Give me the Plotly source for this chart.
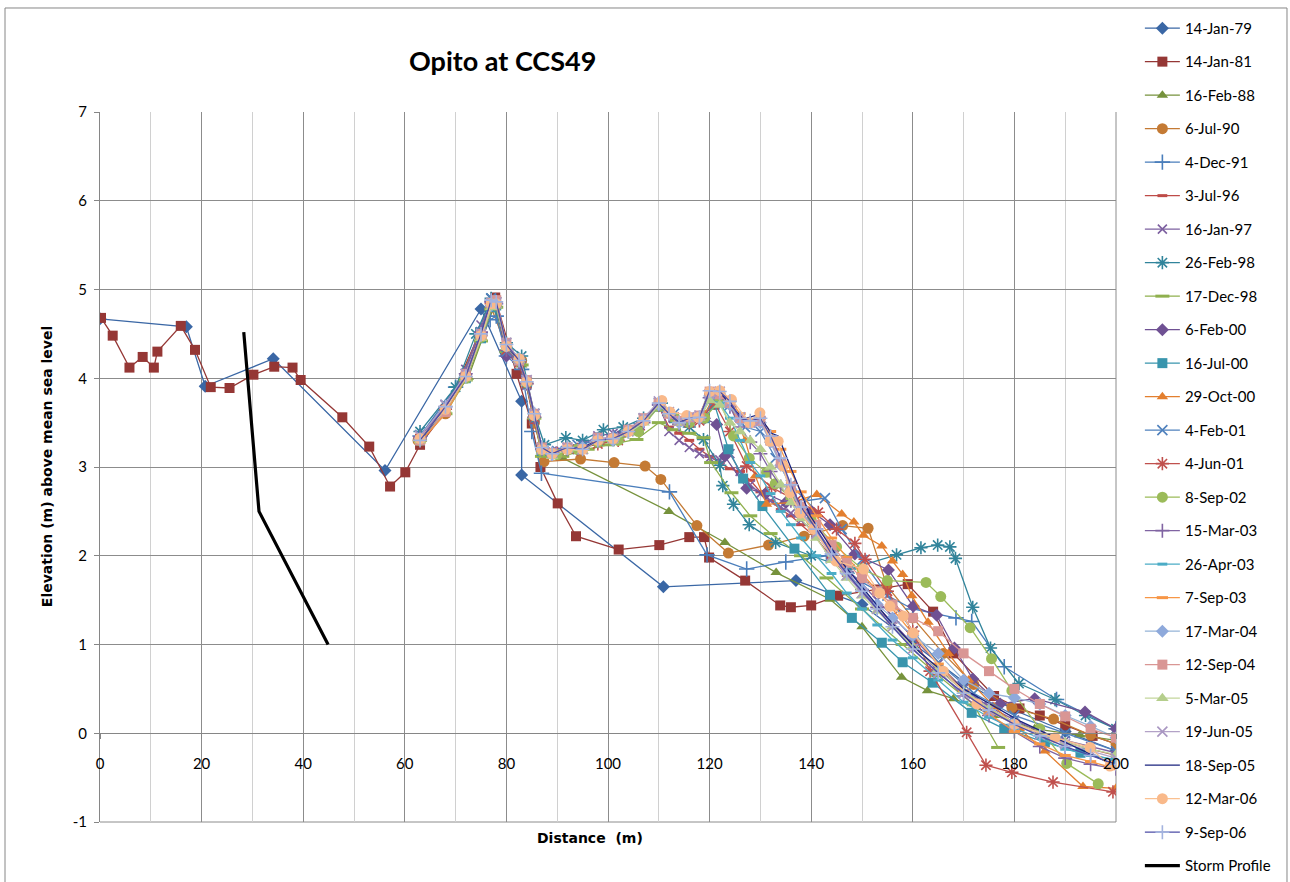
import plotly.graph_objects as go

# ---------------- data ----------------
X_R = [63, 68, 72, 75, 77, 78, 80, 82.5, 84, 85.5, 87, 89, 92, 95, 98, 101, 104, 107, 110, 112, 114, 116,
       118, 120, 122, 124, 126, 128, 130, 132, 134, 136, 138, 141, 144, 147, 150, 153, 156, 160, 165, 170,
       175, 180, 185, 190, 195, 200]

x_79 = [0, 17.0, 20.7, 34.1, 56.1, 75.0, 83.0, 83.0, 110.9, 137.0, 150.0, 160.0, 170.0, 180.0, 190.0, 200.0]
y_79 = [4.67, 4.58, 3.91, 4.22, 2.96, 4.78, 3.74, 2.91, 1.65, 1.72, 1.45, 1.02, 0.58, 0.26, 0.02, -0.2]

x_81 = [0.2, 2.5, 5.8, 8.4, 10.6, 11.3, 15.9, 18.7, 21.8, 25.5, 30.2, 34.3, 37.9, 39.5, 47.7, 53, 57.1, 60.1,
        63, 67.8, 77.8, 82, 85, 86.7, 90.1, 93.7, 102.1, 110.1, 116, 118.9, 119.9, 127, 133.9, 136, 140,
        145.3, 153, 159, 164, 168, 176, 181, 185, 190, 195.4, 200]
y_81 = [4.68, 4.48, 4.12, 4.24, 4.12, 4.30, 4.59, 4.32, 3.90, 3.89, 4.04, 4.13, 4.12, 3.98, 3.56, 3.23, 2.78,
        2.94, 3.25, 3.61, 4.91, 4.05, 3.49, 3.0, 2.59, 2.22, 2.07, 2.12, 2.21, 2.21, 1.98, 1.72, 1.44, 1.42,
        1.44, 1.55, 1.62, 1.68, 1.37, 0.9, 0.42, 0.28, 0.2, 0.09, -0.03, -0.12]

x_88 = [63, 72.5, 77.5, 80, 83, 85.5, 87, 91.1, 112, 123, 133.1, 143.7, 150, 157.8, 162.9, 168, 176, 184, 192.9, 200]
y_88 = [3.3, 4.01, 4.8, 4.3, 4.15, 3.55, 3.15, 3.1, 2.5, 2.15, 1.81, 1.51, 1.2, 0.63, 0.48, 0.39, 0.2, 0.05, -0.02, -0.08]

x_90 = [62.6, 68, 77, 80, 83, 85.5, 87.4, 94.6, 101.2, 107.3, 110.4, 117.5, 123.7, 131.6, 138.6, 146.2, 151.2,
        154.9, 160, 166, 172, 179.5, 187.7, 195, 200]
y_90 = [3.3, 3.6, 4.8, 4.35, 4.2, 3.5, 3.06, 3.09, 3.05, 3.01, 2.86, 2.34, 2.03, 2.12, 2.22, 2.34, 2.31, 1.66,
        1.3, 0.9, 0.55, 0.29, 0.16, -0.02, -0.12]

x_91 = [63, 70, 76.8, 78, 80, 83, 85, 86.9, 112.1, 119.5, 127.3, 135, 143, 150, 160, 168.5, 171.6, 178, 188.3, 200]
y_91 = [3.35, 3.9, 4.66, 4.7, 4.25, 4.1, 3.4, 2.93, 2.72, 2.01, 1.85, 1.93, 2.0, 1.7, 1.4, 1.30, 1.26, 0.75, 0.38, 0.05]

y_96 = [3.28, 3.62, 4.05, 4.55, 4.88, 4.85, 4.3, 4.15, 3.9, 3.5, 3.18, 3.15, 3.2, 3.22, 3.3, 3.32, 3.4, 3.52,
        3.68, 3.45, 3.38, 3.3, 3.2, 3.12, 3.05, 2.98, 2.95, 2.85, 2.72, 2.62, 2.52, 2.45, 2.35, 2.2, 1.98,
        1.78, 1.6, 1.42, 1.25, 1.0, 0.72, 0.48, 0.28, 0.12, 0.0, -0.1, -0.18, -0.25]

y_97 = [3.32, 3.7, 4.1, 4.6, 4.9, 4.85, 4.28, 4.18, 3.92, 3.55, 3.2, 3.18, 3.22, 3.25, 3.35, 3.38, 3.42, 3.55,
        3.72, 3.4, 3.3, 3.22, 3.15, 3.1, 3.08, 3.15, 2.95, 2.8, 2.7, 2.62, 2.55, 2.48, 2.4, 2.25, 2.05, 1.85,
        1.68, 1.5, 1.32, 1.08, 0.78, 0.5, 0.3, 0.15, 0.02, -0.08, -0.15, -0.22]

x_98f = [63, 70, 74, 77, 80, 83, 85.5, 87.5, 91.7, 95, 99.1, 103, 107, 110.5, 113, 116, 118.8, 122, 122.6, 124.7,
         127.8, 133, 140, 147.6, 156.8, 161.6, 164.9, 167.3, 168.4, 171.8, 175.3, 180.9, 188, 194, 200]
y_98f = [3.4, 3.9, 4.5, 4.9, 4.4, 4.25, 3.6, 3.25, 3.33, 3.3, 3.42, 3.45, 3.55, 3.72, 3.55, 3.45, 3.31, 3.02,
         2.79, 2.58, 2.35, 2.15, 2.0, 1.85, 2.01, 2.09, 2.12, 2.1, 1.97, 1.42, 0.96, 0.56, 0.38, 0.2, 0.05]

x_98d = [63, 68, 72, 75, 77, 78, 80, 83, 85.5, 87, 91, 96, 100, 105.6, 110, 113, 116, 118.8, 120.3, 124.3, 128,
         132, 138, 143, 150, 158, 165, 172, 176.8]
y_98d = [3.3, 3.6, 3.98, 4.42, 4.78, 4.8, 4.3, 4.15, 3.55, 3.12, 3.12, 3.2, 3.25, 3.31, 3.5, 3.42, 3.38, 3.33,
         3.05, 2.71, 2.45, 2.25, 2.0, 1.75, 1.4, 1.0, 0.65, 0.32, -0.16]

x_00f = [63, 68, 72, 75, 77, 78, 80, 82.5, 84, 85.5, 87, 90, 94, 98, 102, 106, 110, 113, 116, 119, 121.4, 123,
         127.3, 131, 135, 140.1, 143.7, 148.6, 155.2, 160.1, 164.7, 168.2, 171.8, 177.2, 184, 193.9, 200]
y_00f = [3.32, 3.66, 4.04, 4.5, 4.85, 4.84, 4.25, 4.2, 3.95, 3.58, 3.2, 3.16, 3.2, 3.28, 3.34, 3.45, 3.7, 3.55,
         3.5, 3.55, 3.48, 3.12, 2.76, 2.7, 2.6, 2.5, 2.35, 2.02, 1.84, 1.43, 1.33, 0.96, 0.61, 0.33, 0.39, 0.24, 0.05]

x_00j = [63, 68, 72, 75, 77, 78, 80, 82.5, 84, 85.5, 87, 90, 94, 98, 102, 106, 110, 113, 116, 119, 121, 123.7,
         126.6, 130.4, 136.7, 143.7, 148, 153.9, 158, 163.9, 171.6, 178, 186, 193, 200]
y_00j = [3.3, 3.64, 4.0, 4.45, 4.8, 4.82, 4.35, 4.22, 3.94, 3.56, 3.18, 3.15, 3.2, 3.3, 3.32, 3.42, 3.68, 3.55,
         3.5, 3.55, 3.7, 3.2, 2.87, 2.56, 2.08, 1.56, 1.3, 1.02, 0.8, 0.57, 0.23, 0.05, -0.1, -0.22, -0.3]

x_00o = [63, 68, 72, 75, 77, 78, 80, 82.5, 84, 85.5, 87, 90, 94, 98, 102, 106, 110, 113, 116, 119, 121.5, 124,
         127, 129, 131.2, 136, 141.1, 146, 148.4, 150.3, 153.9, 156, 158, 159.8, 163, 167, 171, 176, 181, 186,
         193.5, 200]
y_00o = [3.3, 3.62, 4.0, 4.46, 4.82, 4.84, 4.35, 4.2, 3.95, 3.58, 3.2, 3.14, 3.2, 3.28, 3.32, 3.45, 3.7, 3.58,
         3.52, 3.6, 3.85, 3.72, 3.3, 2.9, 2.58, 2.6, 2.69, 2.47, 2.38, 2.23, 2.11, 1.94, 1.79, 1.55, 1.25, 0.9,
         0.6, 0.3, 0.05, -0.2, -0.6, -0.62]

x_01f = [63, 68, 72, 75, 77, 78, 80, 82.5, 84, 85.5, 87, 90, 94, 98, 102, 106, 110, 113, 116, 119, 121, 124, 127,
         130, 133, 136, 139, 142.7, 146, 150, 155, 160, 165, 172, 180, 190, 200]
y_01f = [3.36, 3.7, 4.05, 4.52, 4.9, 4.86, 4.3, 4.2, 3.96, 3.6, 3.22, 3.18, 3.25, 3.3, 3.36, 3.44, 3.72, 3.6,
         3.52, 3.56, 3.8, 3.7, 3.45, 3.4, 3.1, 2.8, 2.62, 2.65, 2.3, 1.95, 1.55, 1.15, 0.8, 0.45, 0.2, 0.0, -0.2]

x_01j = [63, 68, 72, 75, 77, 78, 80, 82.5, 84, 85.5, 87, 90, 94, 98, 102, 106, 110, 113, 116, 118, 121, 124,
         127.3, 132.2, 137, 141.4, 145, 148.6, 150.6, 155, 160, 163.4, 170.6, 174.4, 179.5, 187.6, 199.4]
y_01j = [3.32, 3.65, 4.02, 4.48, 4.84, 4.86, 4.32, 4.18, 3.94, 3.56, 3.2, 3.15, 3.2, 3.26, 3.3, 3.42, 3.7, 3.56,
         3.5, 3.52, 3.72, 3.4, 3.01, 2.77, 2.62, 2.49, 2.3, 2.14, 1.96, 1.6, 1.15, 0.7, 0.01, -0.36, -0.44, -0.55, -0.66]

x_02 = [63, 68, 72, 75, 77, 78, 80, 82.5, 84, 85.5, 87, 90, 94, 98, 102, 106, 110, 113, 116, 119, 122, 124.7,
        127.8, 131.2, 132.9, 136, 140, 145, 150, 155, 162.6, 165.5, 171.3, 175.5, 179.5, 185, 190.3, 196.5]
y_02 = [3.3, 3.64, 4.0, 4.46, 4.82, 4.82, 4.36, 4.2, 3.95, 3.58, 3.18, 3.14, 3.2, 3.28, 3.3, 3.4, 3.68, 3.56,
        3.5, 3.55, 3.75, 3.35, 3.1, 2.94, 2.81, 2.65, 2.4, 2.1, 1.85, 1.72, 1.7, 1.54, 1.19, 0.84, 0.48, 0.05,
        -0.34, -0.57]

y_03m = [3.34, 3.68, 4.05, 4.52, 4.86, 4.84, 4.32, 4.18, 3.94, 3.56, 3.2, 3.15, 3.2, 3.22, 3.3, 3.35, 3.4, 3.5,
         3.7, 3.58, 3.48, 3.52, 3.55, 3.78, 3.8, 3.68, 3.45, 3.28, 3.15, 2.95, 2.78, 2.62, 2.48, 2.3, 2.05, 1.82,
         1.62, 1.42, 1.25, 1.0, 0.7, 0.42, 0.2, 0.02, -0.15, -0.28, -0.35, -0.4]

y_03a = [3.3, 3.64, 4.0, 4.46, 4.82, 4.82, 4.35, 4.2, 3.94, 3.58, 3.2, 3.14, 3.2, 3.2, 3.3, 3.3, 3.38, 3.5, 3.7,
         3.58, 3.5, 3.54, 3.55, 3.75, 3.72, 3.55, 3.3, 3.05, 2.9, 2.7, 2.5, 2.35, 2.2, 2.0, 1.8, 1.58, 1.4, 1.22,
         1.05, 0.85, 0.6, 0.35, 0.18, 0.05, -0.05, -0.18, -0.25, -0.3]

y_03s = [3.28, 3.6, 4.0, 4.45, 4.8, 4.85, 4.38, 4.2, 3.95, 3.58, 3.18, 3.14, 3.2, 3.2, 3.3, 3.32, 3.4, 3.52, 3.72,
         3.62, 3.52, 3.56, 3.58, 3.82, 3.84, 3.75, 3.6, 3.52, 3.55, 3.4, 3.2, 2.95, 2.72, 2.45, 2.2, 1.98, 1.8,
         1.6, 1.4, 1.12, 0.78, 0.48, 0.22, 0.02, -0.12, -0.25, -0.32, -0.4]

y_04m = [3.32, 3.66, 4.02, 4.48, 4.82, 4.84, 4.36, 4.22, 3.96, 3.6, 3.2, 3.14, 3.2, 3.22, 3.32, 3.3, 3.4, 3.52,
         3.7, 3.6, 3.5, 3.56, 3.55, 3.8, 3.82, 3.7, 3.52, 3.5, 3.5, 3.28, 3.02, 2.75, 2.5, 2.28, 2.02, 1.8, 1.62,
         1.45, 1.3, 1.1, 0.9, 0.6, 0.45, 0.4, 0.33, 0.2, 0.08, -0.05]

y_04s = [3.3, 3.62, 4.05, 4.5, 4.85, 4.88, 4.4, 4.2, 3.98, 3.6, 3.22, 3.16, 3.22, 3.2, 3.33, 3.32, 3.42, 3.55,
         3.72, 3.6, 3.52, 3.56, 3.58, 3.85, 3.82, 3.72, 3.55, 3.5, 3.52, 3.3, 3.05, 2.78, 2.55, 2.35, 2.12, 1.92,
         1.75, 1.6, 1.45, 1.3, 1.15, 0.9, 0.7, 0.5, 0.33, 0.19, 0.05, -0.05]

y_05m = [3.3, 3.65, 4.0, 4.45, 4.8, 4.82, 4.35, 4.2, 3.95, 3.58, 3.18, 3.12, 3.2, 3.18, 3.3, 3.3, 3.38, 3.5, 3.7,
         3.6, 3.5, 3.55, 3.55, 3.75, 3.7, 3.5, 3.4, 3.3, 3.2, 3.0, 2.8, 2.6, 2.42, 2.2, 1.95, 1.75, 1.55, 1.38,
         1.2, 0.98, 0.72, 0.48, 0.28, 0.12, 0.0, -0.1, -0.18, -0.24]

y_05j = [3.35, 3.7, 4.05, 4.5, 4.85, 4.85, 4.4, 4.22, 3.98, 3.6, 3.2, 3.16, 3.22, 3.2, 3.32, 3.33, 3.4, 3.55,
         3.74, 3.62, 3.52, 3.56, 3.58, 3.82, 3.85, 3.72, 3.56, 3.5, 3.52, 3.3, 3.05, 2.75, 2.5, 2.25, 2.0, 1.78,
         1.58, 1.4, 1.2, 0.95, 0.68, 0.45, 0.25, 0.1, -0.02, -0.12, -0.2, -0.28]

x_05s = [63, 68, 72, 75, 77, 78, 80, 82.5, 84, 85.5, 87, 89, 92, 95, 98, 101, 104, 107, 110, 112, 114, 116, 118,
         120.1, 121.4, 126.6, 129.6, 132.2, 133.5, 139.8, 145, 150, 155, 161.4, 170, 181, 190, 200]
y_05s = [3.3, 3.66, 4.02, 4.5, 4.86, 4.85, 4.36, 4.2, 3.96, 3.58, 3.2, 3.15, 3.2, 3.22, 3.3, 3.32, 3.4, 3.52,
         3.72, 3.6, 3.5, 3.55, 3.58, 3.86, 3.88, 3.54, 3.59, 3.38, 3.35, 2.45, 2.0, 1.65, 1.3, 0.91, 0.5, 0.14,
         -0.1, -0.37]

x_06m = [63, 68, 72, 75, 77, 78, 80, 82.5, 84, 85.5, 87, 89, 92, 95, 98, 101, 104, 107, 110.6, 112.2, 115.5,
         117.8, 120, 122, 124.3, 127.9, 129.9, 131.9, 133.5, 134.5, 135.8, 137.8, 140.4, 144.9, 150.3, 153.5,
         155.5, 158.1, 160.1, 166, 172.6, 180, 188, 194.9, 198.8]
y_06m = [3.32, 3.65, 4.02, 4.48, 4.84, 4.84, 4.36, 4.22, 3.96, 3.58, 3.2, 3.15, 3.2, 3.2, 3.3, 3.32, 3.4, 3.52,
         3.75, 3.62, 3.58, 3.56, 3.85, 3.86, 3.76, 3.5, 3.61, 3.29, 3.29, 3.01, 2.71, 2.48, 2.30, 1.94, 1.85,
         1.58, 1.43, 1.32, 1.13, 0.7, 0.33, 0.1, -0.05, -0.16, -0.37]

y_06s = [3.3, 3.68, 4.02, 4.5, 4.88, 4.86, 4.38, 4.2, 3.96, 3.6, 3.22, 3.15, 3.22, 3.2, 3.3, 3.32, 3.4, 3.52,
         3.72, 3.6, 3.5, 3.55, 3.56, 3.86, 3.85, 3.74, 3.55, 3.52, 3.55, 3.35, 3.1, 2.8, 2.55, 2.3, 2.02, 1.8,
         1.6, 1.4, 1.2, 0.95, 0.68, 0.45, 0.26, 0.1, -0.03, -0.15, -0.25, -0.35]

x_storm = [28.3, 31.3, 44.9]
y_storm = [4.52, 2.50, 1.0]

x_ticks = [0, 20, 40, 60, 80, 100, 120, 140, 160, 180, 200]
y_ticks = [-1, 0, 1, 2, 3, 4, 5, 6, 7]

# ---------------- styling of series ----------------
series = [
    ("14-Jan-79", x_79, y_79, "#3A67A5", "#3A67A5", "diamond", 10),
    ("14-Jan-81", x_81, y_81, "#953735", "#953735", "square", 10),
    ("16-Feb-88", x_88, y_88, "#76923C", "#76923C", "triangle-up", 10),
    ("6-Jul-90", x_90, y_90, "#C47A34", "#C47A34", "circle", 11),
    ("4-Dec-91", x_91, y_91, "#4A7EBB", "#4A7EBB", "cross-thin", 11),
    ("3-Jul-96", X_R, y_96, "#BE4B48", "#BE4B48", "line-ew", 7),
    ("16-Jan-97", X_R, y_97, "#7D60A0", "#7D60A0", "x-thin", 9),
    ("26-Feb-98", x_98f, y_98f, "#31849B", "#31849B", "asterisk", 11),
    ("17-Dec-98", x_98d, y_98d, "#8FB04E", "#8FB04E", "line-ew", 10),
    ("6-Feb-00", x_00f, y_00f, "#6F5193", "#6F5193", "diamond", 10),
    ("16-Jul-00", x_00j, y_00j, "#3995AD", "#3995AD", "square", 10),
    ("29-Oct-00", x_00o, y_00o, "#E37F2F", "#E37F2F", "triangle-up", 10),
    ("4-Feb-01", x_01f, y_01f, "#4F81BD", "#4F81BD", "x-thin", 10),
    ("4-Jun-01", x_01j, y_01j, "#C0504D", "#C0504D", "asterisk", 11),
    ("8-Sep-02", x_02, y_02, "#9BBB59", "#9BBB59", "circle", 11),
    ("15-Mar-03", X_R, y_03m, "#8064A2", "#8064A2", "cross-thin", 10),
    ("26-Apr-03", X_R, y_03a, "#4BACC6", "#4BACC6", "line-ew", 7),
    ("7-Sep-03", X_R, y_03s, "#F79646", "#F79646", "line-ew", 8),
    ("17-Mar-04", X_R, y_04m, "#95B3D7", "#8EA9DB", "diamond", 10),
    ("12-Sep-04", X_R, y_04s, "#D99694", "#D99694", "square", 10),
    ("5-Mar-05", X_R, y_05m, "#C3D69B", "#B5CE8C", "triangle-up", 11),
    ("19-Jun-05", X_R, y_05j, "#B3A2C7", "#A997C2", "x-thin", 10),
    ("18-Sep-05", x_05s, y_05s, "#1A237E", None, None, 0),
    ("12-Mar-06", x_06m, y_06m, "#FAC090", "#F9B98A", "circle", 11),
    ("9-Sep-06", X_R, y_06s, "#4D4DA6", "#A3B3DE", "cross-thin", 10),
]

FONT = "Lato, 'Open Sans', Arial, sans-serif"
TFONT = "'DejaVu Sans', Arial, sans-serif"

fig = go.Figure()
for i, (name, xs, ys, lc, mc, sym, size) in enumerate(series):
    if sym is None:
        mode = "lines"
        marker = None
    else:
        mode = "lines+markers"
        if sym in ("cross-thin", "x-thin", "asterisk", "line-ew"):
            marker = dict(symbol=sym, size=size, color=mc,
                          line=dict(color=mc, width=3 if sym == "line-ew" else 1.6))
        else:
            marker = dict(symbol=sym, size=size, color=mc, line=dict(width=0))
    fig.add_trace(go.Scatter(x=xs, y=ys, name=name, mode=mode, marker=marker,
                             line=dict(color=lc, width=1.3), legendgroup="g%d" % i))

fig.add_trace(go.Scatter(x=x_storm, y=y_storm, name="Storm Profile", mode="lines",
                         line=dict(color="black", width=3.2), legendgroup="storm"))

# ---------------- layout ----------------
fig.update_layout(
    width=1290, height=882,
    margin=dict(l=100, r=174, t=112, b=60),
    paper_bgcolor="white", plot_bgcolor="white",
    font=dict(family=FONT, size=14, color="#000000"),
    showlegend=True,
    legend=dict(x=1.0235, xanchor="left", y=1.141, yanchor="top",
                font=dict(family=FONT, size=15, color="#000000"),
                tracegroupgap=11.0, itemwidth=35, bgcolor="rgba(0,0,0,0)",
                maxheight=1000),
    xaxis=dict(range=[0, 200], tickvals=x_ticks, ticktext=[str(v) for v in x_ticks],
               showgrid=True, gridcolor="#8C8C8C", gridwidth=1,
               minor=dict(dtick=10, showgrid=True, gridcolor="#D0D0D0", gridwidth=1),
               zeroline=False, showline=True, linecolor="#868686", linewidth=1,
               ticks="outside", ticklen=5, tickcolor="#868686",
               anchor="free", position=0.125, ticklabelstandoff=12,
               tickfont=dict(size=15)),
    yaxis=dict(range=[-1, 7], tickvals=y_ticks, ticktext=[str(v) for v in y_ticks],
               showgrid=True, gridcolor="#8C8C8C", gridwidth=1,
               zeroline=False, showline=True, linecolor="#868686", linewidth=1,
               ticks="outside", ticklen=5, tickcolor="#868686",
               ticklabelstandoff=4, tickfont=dict(size=15)),
    annotations=[
        dict(text="<b>Opito at CCS49</b>", x=0.3957, y=1.073, xref="paper", yref="paper",
             showarrow=False, font=dict(family=FONT, size=27, color="#000000"),
             xanchor="center", yanchor="middle"),
        dict(text="<b>Elevation (m) above mean sea level</b>", x=-0.052, y=0.5, xref="paper",
             yref="paper", showarrow=False, textangle=-90,
             font=dict(family=TFONT, size=14, color="#000000"), xanchor="center", yanchor="middle"),
        dict(text="<b>Distance  (m)</b>", x=0.482, y=-0.0225, xref="paper", yref="paper",
             showarrow=False, font=dict(family=TFONT, size=14, color="#000000"),
             xanchor="center", yanchor="middle"),
    ],
    shapes=[
        dict(type="rect", xref="paper", yref="paper", x0=-0.0935, x1=1.1683, y0=-0.2, y1=1.1465,
             line=dict(color="#868686", width=1), fillcolor="rgba(0,0,0,0)", layer="below"),
        dict(type="line", xref="paper", yref="paper", x0=0, x1=1, y0=0, y1=0,
             line=dict(color="#8C8C8C", width=1), layer="below"),
        dict(type="line", xref="paper", yref="paper", x0=1, x1=1, y0=0, y1=1,
             line=dict(color="#8C8C8C", width=1), layer="below"),
    ],
)

fig.write_html("out.html")
